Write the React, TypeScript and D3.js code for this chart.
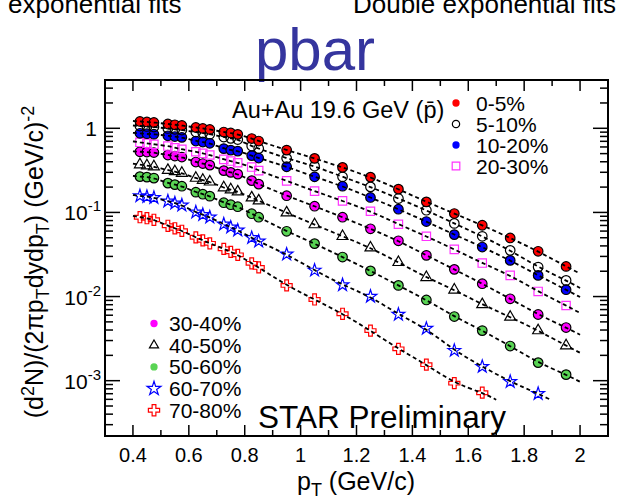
import React from 'react';
import * as d3 from 'd3';

// pT bin centres (GeV/c): TPC + TOF points merged, sorted
const pt = [0.425, 0.45, 0.475, 0.525, 0.55, 0.575, 0.625, 0.65, 0.675, 0.725, 0.75, 0.775, 0.825, 0.85,
  0.95, 1.05, 1.15, 1.25, 1.35, 1.45, 1.55, 1.65, 1.75, 1.85, 1.95];

const centLabels = ['0-5%', '5-10%', '10-20%', '20-30%', '30-40%', '40-50%', '50-60%', '60-70%', '70-80%'];

const yield0_5 = [1.205, 1.189, 1.172, 1.125, 1.101, 1.080, 1.022, 0.995, 0.968, 0.903, 0.879, 0.848, 0.756, 0.706,
  0.551, 0.439, 0.343, 0.263, 0.189, 0.1334, 0.0970, 0.0704, 0.0497, 0.0345, 0.0228];
const yield5_10 = [1.065, 1.051, 1.036, 0.995, 0.973, 0.954, 0.903, 0.879, 0.851, 0.788, 0.760, 0.735, 0.615, 0.574,
  0.439, 0.355, 0.265, 0.201, 0.1464, 0.1062, 0.074, 0.0520, 0.0354, 0.0224, 0.01555];
const yield10_20 = [0.872, 0.862, 0.851, 0.814, 0.798, 0.781, 0.706, 0.687, 0.663, 0.574, 0.551, 0.536, 0.474, 0.443,
  0.349, 0.265, 0.205, 0.1506, 0.1092, 0.0779, 0.0545, 0.0388, 0.0269, 0.01785, 0.01205];
const yield20_30 = [0.681, 0.663, 0.645, 0.615, 0.587, 0.562, 0.526, 0.504, 0.481, 0.427, 0.408, 0.389, 0.346, 0.314,
  0.2373, 0.179, 0.1371, 0.1033, 0.0724, 0.0520, 0.0364, 0.0250, 0.01785, 0.0115, 0.00783];
const yield30_40 = [0.526, 0.522, 0.515, 0.481, 0.468, 0.455, 0.397, 0.381, 0.365, 0.314, 0.299, 0.285, 0.2386, 0.217,
  0.158, 0.1186, 0.0877, 0.0639, 0.0460, 0.0309, 0.02104, 0.01421, 0.00941, 0.00612, 0.00428];
const yield40_50 = [0.370, 0.360, 0.350, 0.318, 0.306, 0.293, 0.256, 0.242, 0.231, 0.197, 0.1865, 0.1765, 0.1497, 0.1378,
  0.0992, 0.0717, 0.0520, 0.0380, 0.0255, 0.0169, 0.0120, 0.00805, 0.00571, 0.00394, 0.00261];
const yield50_60 = [0.2665, 0.263, 0.256, 0.2229, 0.214, 0.205, 0.174, 0.1647, 0.156, 0.1305, 0.1235, 0.1169, 0.0965, 0.0877,
  0.0597, 0.0426, 0.02948, 0.0202, 0.01356, 0.00911, 0.00579, 0.00394, 0.00258, 0.00164, 0.00118];
const yield60_70 = [0.157, 0.1539, 0.1497, 0.136, 0.1287, 0.1218, 0.1006, 0.0939, 0.0877, 0.0724, 0.0666, 0.0614, 0.0500, 0.0454,
  0.0318, 0.0205, 0.01375, 0.01003, 0.00612, 0.00417, 0.00228, 0.00147, 0.000973, 0.0007];
const yield70_80 = [0.0877, 0.0853, 0.0818, 0.0694, 0.0648, 0.0605, 0.0506, 0.0466, 0.0429, 0.0369, 0.0340, 0.0313, 0.0248, 0.0222,
  0.01356, 0.00923, 0.00624, 0.00394, 0.00239, 0.00155, 0.000934, 0.00072];

const yields = [yield0_5, yield5_10, yield10_20, yield20_30, yield30_40, yield40_50, yield50_60, yield60_70, yield70_80];

// fit ranges (GeV/c)
const fitStart = 0.4;
const fitEnd = [2.0, 2.0, 2.0, 2.0, 2.0, 2.0, 2.0, 1.89, 1.7];

const xTicks = [0.4, 0.6, 0.8, 1.0, 1.2, 1.4, 1.6, 1.8, 2.0];
const xMinor = [0.3, 0.5, 0.7, 0.9, 1.1, 1.3, 1.5, 1.7, 1.9, 2.1];
const yTickExp = [0, -1, -2, -3];

const markers = [
  { shape: 'circle', fill: '#ff0000', stroke: '#000', lfill: '#ff0000', lstroke: 'none' },
  { shape: 'circle', fill: 'none', stroke: '#000', lfill: 'none', lstroke: '#000' },
  { shape: 'circle', fill: '#0000ff', stroke: '#000', lfill: '#0000ff', lstroke: 'none' },
  { shape: 'square', fill: 'none', stroke: '#ff33ff', lfill: 'none', lstroke: '#ff33ff' },
  { shape: 'circle', fill: '#ff00ff', stroke: '#000', lfill: '#ff00ff', lstroke: 'none' },
  { shape: 'triangle', fill: 'none', stroke: '#000', lfill: 'none', lstroke: '#000' },
  { shape: 'circle', fill: '#59d454', stroke: '#000', lfill: '#59d454', lstroke: 'none' },
  { shape: 'star', fill: 'none', stroke: '#0000ff', lfill: 'none', lstroke: '#0000ff' },
  { shape: 'cross', fill: 'none', stroke: '#ff0000', lfill: 'none', lstroke: '#ff0000' },
];

const symType: any = {
  circle: d3.symbolCircle, square: d3.symbolSquare, triangle: d3.symbolTriangle,
  star: d3.symbolStar, cross: d3.symbolCross,
};
const plotSize: any = { circle: 72, square: 70, triangle: 52, star: 50, cross: 68 };
const legSize: any = { circle: 42, square: 58, triangle: 36, star: 60, cross: 70 };

const font = 'Liberation Sans, Arial, Helvetica, sans-serif';

const W = 619, H = 503;
const L = 105, R = 608, T = 80, B = 436;

export default function App() {
  const x = d3.scaleLinear().domain([0.3, 2.1]).range([L, R]);
  const y = d3.scaleLog().domain([2.2e-4, 3.75]).range([B, T]);

  const sym = (shape: string, size: number) => d3.symbol(symType[shape], size)() as string;

  const line = d3.line<[number, number]>()
    .x(d => x(d[0]))
    .y(d => y(d[1]))
    .curve(d3.curveBasis);

  const fitPoints = (vals: number[], i: number): [number, number][] => {
    const pts: [number, number][] = vals.map((v, k) => [pt[k], v]);
    const n = pts.length;
    const s0 = (Math.log(pts[2][1]) - Math.log(pts[0][1])) / (pts[2][0] - pts[0][0]);
    const s1 = (Math.log(pts[n - 1][1]) - Math.log(pts[n - 3][1])) / (pts[n - 1][0] - pts[n - 3][0]);
    const a: [number, number] = [fitStart, Math.exp(Math.log(pts[0][1]) + s0 * (fitStart - pts[0][0]))];
    const b: [number, number] = [fitEnd[i], Math.exp(Math.log(pts[n - 1][1]) + s1 * (fitEnd[i] - pts[n - 1][0]))];
    return [a, ...pts, b];
  };

  // log minor ticks
  const yMinor: number[] = [];
  for (let e = -4; e <= 0; e++) {
    for (let m = 2; m <= 9; m++) {
      const v = m * Math.pow(10, e);
      if (v > 2.2e-4 && v < 3.75) yMinor.push(v);
    }
  }

  const order = d3.range(yields.length).reverse();

  return (
    <svg width={W} height={H} style={{ position: 'absolute', left: 0, top: 0, background: '#fff' }}
      fontFamily={font}>
      <rect x={0} y={0} width={W} height={H} fill="#fff" />

      {/* header texts, cut at the top edge as in the slide */}
      <text x={8} y={13} fontSize={26} fill="#000">exponential fits</text>
      <text x={616} y={13} fontSize={26} fill="#000" textAnchor="end">Double exponential fits</text>
      <text x={315} y={70} fontSize={60} fill="#35359e" textAnchor="middle">pbar</text>

      {/* markers */}
      {order.map(i => (
        <g key={'s' + i}>
          {yields[i].map((v, k) => (
            <path key={k} d={sym(markers[i].shape, plotSize[markers[i].shape])}
              transform={`translate(${x(pt[k])},${y(v)})`}
              fill={markers[i].fill} stroke={markers[i].stroke} strokeWidth={1.2} />
          ))}
        </g>
      ))}

      {/* fits */}
      {yields.map((vals, i) => (
        <path key={'f' + i} d={line(fitPoints(vals, i)) as string} fill="none" stroke="#000"
          strokeWidth={1.8} strokeDasharray="4,3" />
      ))}

      {/* frame */}
      <rect x={L} y={T} width={R - L} height={B - T} fill="none" stroke="#000" strokeWidth={2} />

      {/* x ticks */}
      {xTicks.map(t => (
        <g key={'xt' + t}>
          <line x1={x(t)} x2={x(t)} y1={B} y2={B - 11} stroke="#000" strokeWidth={1.5} />
          <line x1={x(t)} x2={x(t)} y1={T} y2={T + 11} stroke="#000" strokeWidth={1.5} />
          <text x={x(t)} y={462} fontSize={20} textAnchor="middle">{String(+t.toFixed(1))}</text>
        </g>
      ))}
      {xMinor.map(t => (
        <g key={'xm' + t}>
          <line x1={x(t)} x2={x(t)} y1={B} y2={B - 6} stroke="#000" strokeWidth={1.5} />
          <line x1={x(t)} x2={x(t)} y1={T} y2={T + 6} stroke="#000" strokeWidth={1.5} />
        </g>
      ))}

      {/* y ticks */}
      {yTickExp.map(e => {
        const yy = y(Math.pow(10, e));
        return (
          <g key={'yt' + e}>
            <line x1={L} x2={L + 15} y1={yy} y2={yy} stroke="#000" strokeWidth={1.5} />
            <line x1={R} x2={R - 15} y1={yy} y2={yy} stroke="#000" strokeWidth={1.5} />
            {e === 0 ? (
              <text x={97} y={yy + 8} fontSize={21} textAnchor="end">1</text>
            ) : (
              <text x={101} y={yy + 8} fontSize={21} textAnchor="end">
                10<tspan dy={-9} fontSize={15}>{String(e)}</tspan>
              </text>
            )}
          </g>
        );
      })}
      {yMinor.map(v => (
        <g key={'ym' + v}>
          <line x1={L} x2={L + 8} y1={y(v)} y2={y(v)} stroke="#000" strokeWidth={1.5} />
          <line x1={R} x2={R - 8} y1={y(v)} y2={y(v)} stroke="#000" strokeWidth={1.5} />
        </g>
      ))}

      {/* axis titles */}
      <text x={356} y={490} fontSize={25} textAnchor="middle">
        p<tspan dy={6} fontSize={18}>T</tspan><tspan dy={-6}> (GeV/c)</tspan>
      </text>
      <text transform="translate(43,262) rotate(-90)" fontSize={25} textAnchor="middle">
        <tspan>(d</tspan><tspan dy={-9} fontSize={18}>2</tspan><tspan dy={9}>N)/(2πp</tspan><tspan dy={6} fontSize={18}>T</tspan><tspan dy={-6}>dydp</tspan><tspan dy={6} fontSize={18}>T</tspan><tspan dy={-6}>) (GeV/c)</tspan><tspan dy={-9} fontSize={18}>-2</tspan>
      </text>

      {/* collision label */}
      <text x={232} y={118} fontSize={23.5}>Au+Au 19.6 GeV (p{'\u0304'})</text>

      {/* legends */}
      {[0, 1, 2, 3].map((i, r) => {
        const cy = 103 + r * 21;
        return (
          <g key={'l1' + i}>
            <path d={sym(markers[i].shape, legSize[markers[i].shape])} transform={`translate(456,${cy})`}
              fill={markers[i].lfill} stroke={markers[i].lstroke} strokeWidth={1.2} />
            <text x={476} y={cy + 7.5} fontSize={21}>{centLabels[i]}</text>
          </g>
        );
      })}
      {[4, 5, 6, 7, 8].map((i, r) => {
        const cy = 323.5 + r * 21.7;
        return (
          <g key={'l2' + i}>
            <path d={sym(markers[i].shape, legSize[markers[i].shape])} transform={`translate(154,${cy})`}
              fill={markers[i].lfill} stroke={markers[i].lstroke} strokeWidth={1.2} />
            <text x={169} y={cy + 7.5} fontSize={21}>{centLabels[i]}</text>
          </g>
        );
      })}

      <text x={258} y={428} fontSize={31.5}>STAR Preliminary</text>
    </svg>
  );
}
